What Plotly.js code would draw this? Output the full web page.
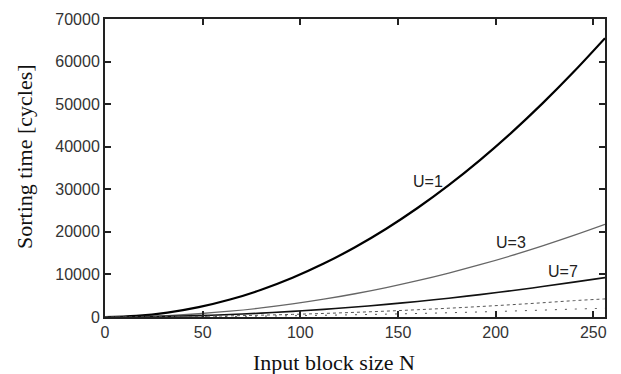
<!DOCTYPE html>
<html><head><meta charset="utf-8">
<script src="https://cdn.plot.ly/plotly-3.0.1.min.js"></script>
<style>html,body{margin:0;padding:0;background:#fff}#c{width:621px;height:374px}</style>
</head><body><div id="c"></div>
<script>
const N = [0,16,32,48,64,80,96,112,128,144,160,176,192,208,224,240,256];
const U1 = [0,256,1024,2304,4096,6400,9216,12544,16384,20736,25600,30976,36864,43264,50176,57600,65500];
const U3 = [0,85,340,768,1365,2130,3070,4180,5460,6910,8530,10320,12280,14400,16700,19150,21750];
const U7 = [0,37,146,329,585,914,1317,1790,2340,2960,3650,4420,5260,6170,7150,8200,9250];
const U15 = [0,17,68,154,273,427,614,836,1092,1382,1707,2065,2458,2884,3345,3840,4250];
const U31 = [0,8,33,74,132,206,297,405,529,669,826,999,1189,1396,1619,1858,2050];
const labels = [{t:'U=1', x:165.5, y:31900},{t:'U=3', x:208, y:17500},{t:'U=7', x:234.5, y:10600}];
const xTicks = [0,50,100,150,200,250];
const yTicks = [0,10000,20000,30000,40000,50000,60000,70000];

const traces = [
  {x:N, y:U1, mode:'lines', line:{color:'#000', width:2.2, shape:'spline'}},
  {x:N, y:U3, mode:'lines', line:{color:'#666', width:1.3, shape:'spline'}},
  {x:N, y:U7, mode:'lines', line:{color:'#111', width:1.6, shape:'spline'}},
  {x:N, y:U15, mode:'lines', line:{color:'#555', width:1, dash:'dot', shape:'spline'}},
  {x:N, y:U31, mode:'lines', line:{color:'#555', width:1, dash:'2px,8px', shape:'spline'}}
];
const tickFont = {family:'"Liberation Sans", Arial, sans-serif', size:16, color:'#333'};
const ax = {showgrid:false, zeroline:false, showline:true, mirror:'ticks', linecolor:'#222', linewidth:2,
  ticks:'inside', ticklen:6, tickwidth:2, tickcolor:'#222', tickfont:tickFont};
const layout = {
  width:621, height:374, margin:{l:105, r:16, t:19, b:57},
  paper_bgcolor:'#fff', plot_bgcolor:'#fff', showlegend:false,
  xaxis:Object.assign({}, ax, {range:[0,256], tickvals:xTicks, ticktext:xTicks.map(String)}),
  yaxis:Object.assign({}, ax, {range:[0,70000], tickvals:yTicks, ticktext:yTicks.map(String)}),
  annotations: labels.map(l => ({x:l.x, y:l.y, xref:'x', yref:'y', text:l.t, showarrow:false,
     font:{family:'"Liberation Sans", Arial, sans-serif', size:16, color:'#222'}})).concat([
    {x:0.458, y:-0.154, xref:'paper', yref:'paper', text:'Input block size N', showarrow:false,
     xanchor:'center', yanchor:'middle', font:{family:'"Liberation Serif", "Times New Roman", serif', size:22, color:'#111'}},
    {x:-0.16, y:0.537, xref:'paper', yref:'paper', text:'Sorting time [cycles]', showarrow:false, textangle:-90,
     xanchor:'center', yanchor:'middle', font:{family:'"Liberation Serif", "Times New Roman", serif', size:22, color:'#111'}}
  ])
};
Plotly.newPlot('c', traces, layout, {staticPlot:true, displayModeBar:false});
</script></body></html>
